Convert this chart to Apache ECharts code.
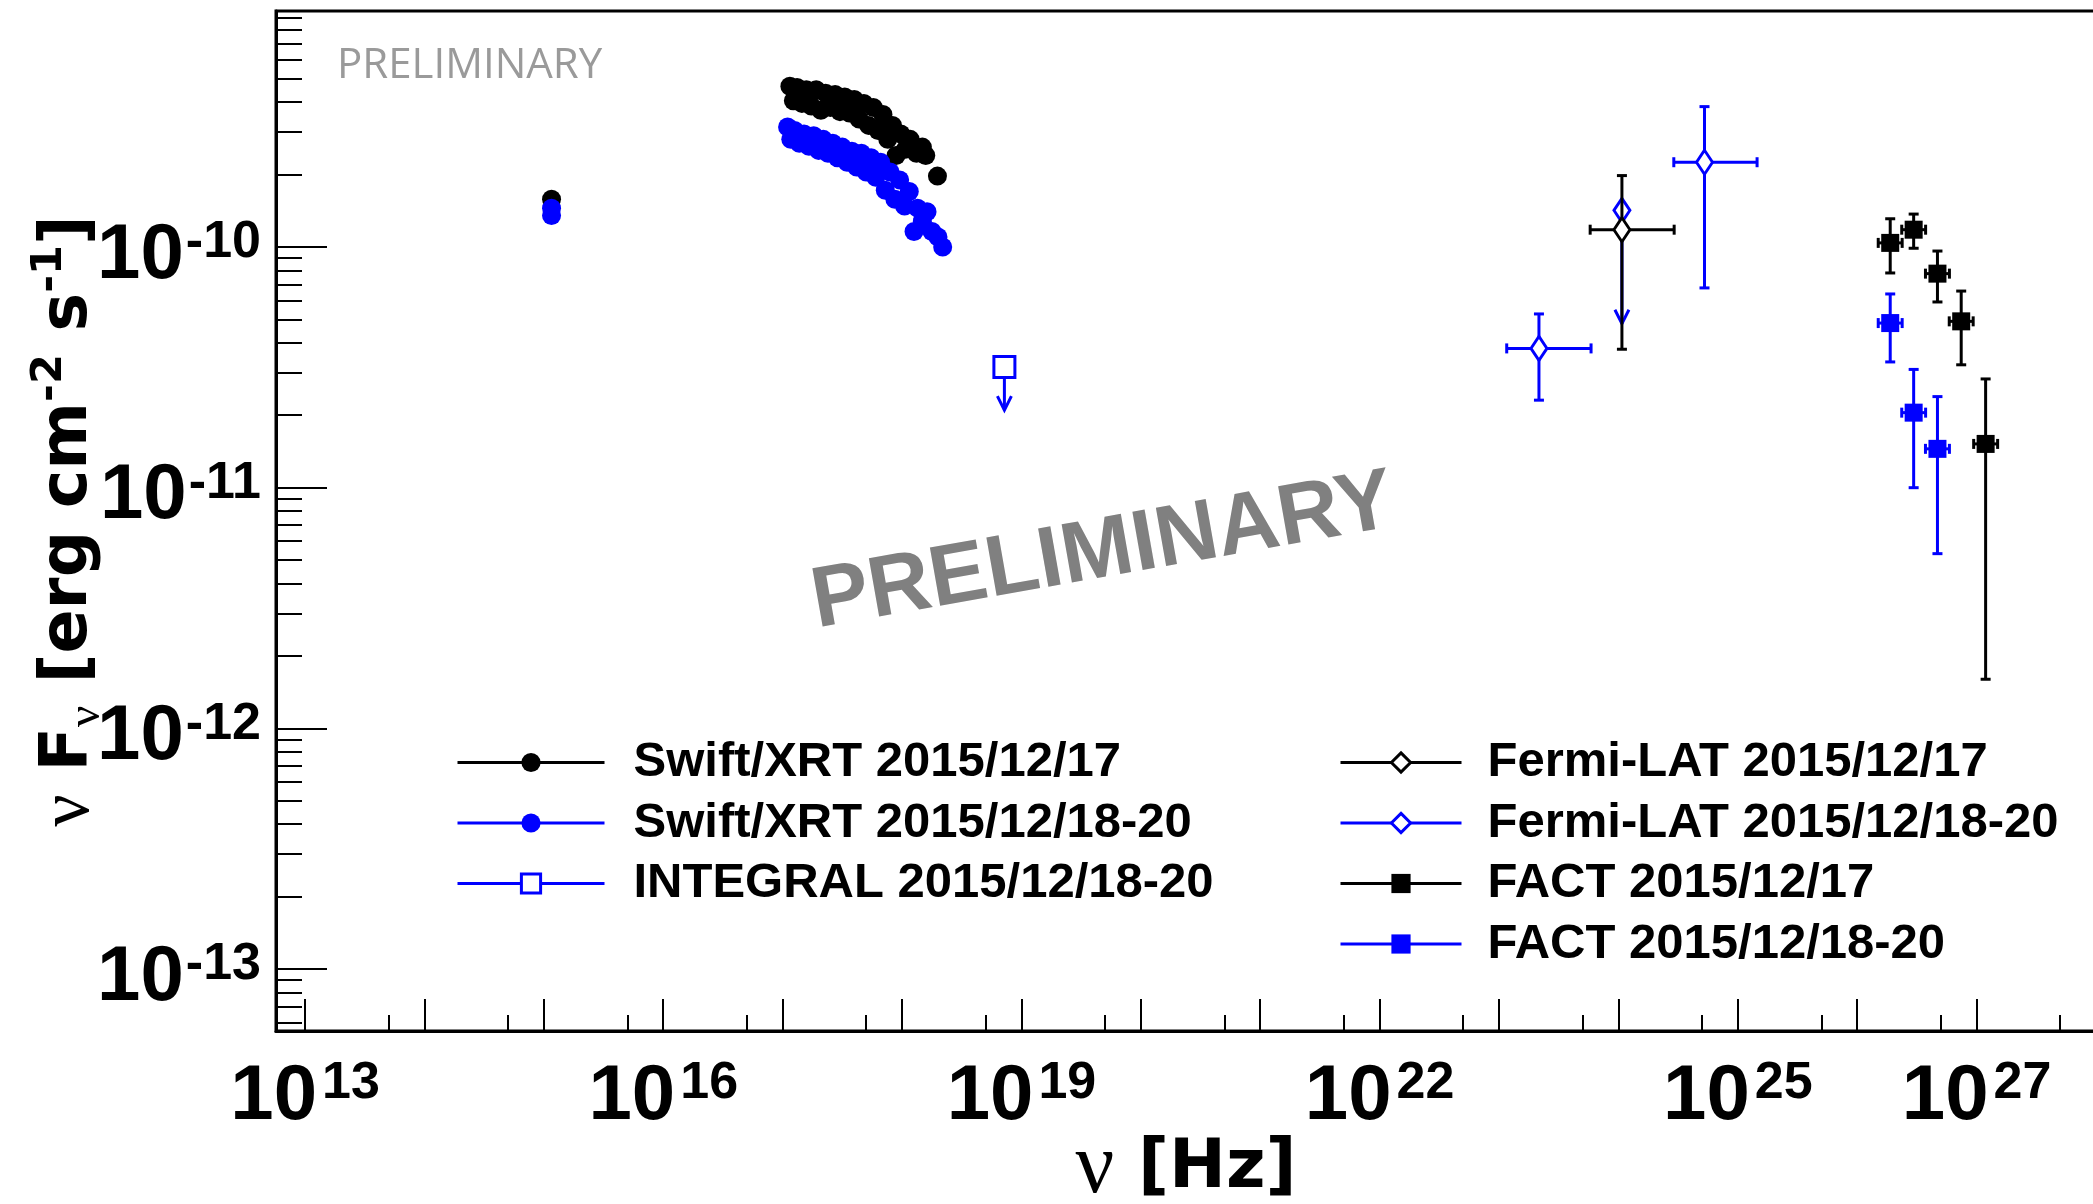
<!DOCTYPE html>
<html>
<head>
<meta charset="utf-8">
<title>SED</title>
<script src="https://cdn.jsdelivr.net/npm/echarts@6.0.0/dist/echarts.min.js"></script>
<style>
html, body { margin: 0; padding: 0; background: #ffffff; }
#chart { width: 2093px; height: 1204px; }
</style>
</head>
<body>
<div id="chart"></div>
<script>
// ---------------- axis ranges & ticks ----------------
const xRange = [5.71e12, 1e28];
const yRange = [5.53e-14, 9.56e-10];
const xMajorTicks = [1e13, 1e14, 1e15, 1e16, 1e17, 1e18, 1e19, 1e20, 1e21, 1e22, 1e23, 1e24, 1e25, 1e26, 1e27];
const xMinorTicks = [5e13, 5e14, 5e15, 5e16, 5e17, 5e18, 5e19, 5e20, 5e21, 5e22, 5e23, 5e24, 5e25, 5e26, 5e27];
const xTickLabels = [1e13, 1e16, 1e19, 1e22, 1e25, 1e27];
const yMajorTicks = [1e-13, 1e-12, 1e-11, 1e-10];
const yMinorTicks = [6e-14, 7e-14, 8e-14, 9e-14,
  2e-13, 3e-13, 4e-13, 5e-13, 6e-13, 7e-13, 8e-13, 9e-13,
  2e-12, 3e-12, 4e-12, 5e-12, 6e-12, 7e-12, 8e-12, 9e-12,
  2e-11, 3e-11, 4e-11, 5e-11, 6e-11, 7e-11, 8e-11, 9e-11,
  2e-10, 3e-10, 4e-10, 5e-10, 6e-10, 7e-10, 8e-10, 9e-10];
const yTickLabels = [1e-13, 1e-12, 1e-11, 1e-10];

// ---------------- series names ----------------
const seriesNames = ['Swift/XRT 2015/12/17', 'Swift/XRT 2015/12/18-20', 'INTEGRAL 2015/12/18-20',
  'Fermi-LAT 2015/12/17', 'Fermi-LAT 2015/12/18-20', 'FACT 2015/12/17', 'FACT 2015/12/18-20'];

// ---------------- Swift (UVOT point + XRT) 2015/12/17 ----------------
const xrt17Nu = [1.16e15, 1.15e17, 1.23e17, 1.32e17, 1.45e17, 1.58e17, 1.74e17, 1.91e17, 2.09e17, 2.29e17,
  2.51e17, 2.75e17, 3.02e17, 3.31e17, 3.63e17, 3.98e17, 4.37e17, 4.79e17, 5.25e17, 5.75e17, 6.31e17,
  6.92e17, 7.59e17, 8.32e17, 8.91e17, 9.77e17, 1.07e18, 1.17e18, 1.32e18, 1.48e18, 1.58e18, 1.98e18];
const xrt17Flux = [1.58e-10, 4.65e-10, 4.05e-10, 4.6e-10, 3.95e-10, 4.5e-10, 3.85e-10, 4.5e-10, 3.7e-10, 4.35e-10,
  3.8e-10, 4.3e-10, 3.65e-10, 4.2e-10, 3.6e-10, 4.1e-10, 3.4e-10, 3.95e-10, 3.2e-10, 3.8e-10, 3.05e-10,
  3.55e-10, 2.8e-10, 3.2e-10, 2.4e-10, 2.95e-10, 2.55e-10, 2.8e-10, 2.45e-10, 2.6e-10, 2.4e-10, 1.97e-10];

// ---------------- Swift 2015/12/18-20 ----------------
const xrt1820Nu = [1.16e15, 1.16e15, 1.10e17, 1.17e17, 1.26e17, 1.38e17, 1.51e17, 1.66e17, 1.82e17, 2.0e17,
  2.19e17, 2.40e17, 2.63e17, 2.88e17, 3.16e17, 3.47e17, 3.80e17, 4.17e17, 4.57e17, 5.01e17, 5.50e17,
  6.03e17, 6.61e17, 7.24e17, 7.94e17, 8.71e17, 9.55e17, 1.05e18, 1.15e18, 1.26e18, 1.35e18, 1.48e18,
  1.62e18, 1.78e18, 2.0e18, 2.19e18];
const xrt1820Flux = [1.45e-10, 1.35e-10, 3.15e-10, 2.8e-10, 3.05e-10, 2.7e-10, 2.95e-10, 2.62e-10, 2.9e-10, 2.52e-10,
  2.8e-10, 2.45e-10, 2.7e-10, 2.35e-10, 2.6e-10, 2.25e-10, 2.5e-10, 2.15e-10, 2.45e-10, 2.05e-10, 2.35e-10,
  1.95e-10, 2.25e-10, 1.72e-10, 2.05e-10, 1.58e-10, 1.9e-10, 1.48e-10, 1.7e-10, 1.16e-10, 1.45e-10, 1.28e-10,
  1.4e-10, 1.16e-10, 1.1e-10, 1.0e-10];

// ---------------- INTEGRAL 2015/12/18-20 (upper limit) ----------------
const integralNu = [7.2e18];
const integralFlux = [3.17e-11];
const integralUlTo = [2.1e-11];

// ---------------- Fermi-LAT 2015/12/17 ----------------
const fermi17Nu = [1.07e24];
const fermi17Flux = [1.18e-10];
const fermi17NuLo = [5.8e23];
const fermi17NuHi = [2.93e24];
const fermi17FluxLo = [3.76e-11];
const fermi17FluxHi = [1.98e-10];

// ---------------- Fermi-LAT 2015/12/18-20 ----------------
const fermi1820Nu = [2.16e23, 5.26e24];
const fermi1820Flux = [3.79e-11, 2.25e-10];
const fermi1820NuLo = [1.16e23, 2.91e24];
const fermi1820NuHi = [5.9e23, 1.45e25];
const fermi1820FluxLo = [2.31e-11, 6.76e-11];
const fermi1820FluxHi = [5.27e-11, 3.83e-10];
const fermi1820UlNu = [1.07e24];
const fermi1820UlFlux = [1.42e-10];
const fermi1820UlTo = [4.8e-11];

// ---------------- FACT 2015/12/17 ----------------
const fact17Nu = [1.89e26, 2.97e26, 4.70e26, 7.43e26, 1.19e27];
const fact17Flux = [1.04e-10, 1.18e-10, 7.75e-11, 4.91e-11, 1.52e-11];
const fact17NuLo = [1.50e26, 2.36e26, 3.73e26, 5.90e26, 9.45e26];
const fact17NuHi = [2.38e26, 3.74e26, 5.92e26, 9.36e26, 1.50e27];
const fact17FluxLo = [7.80e-11, 9.88e-11, 5.91e-11, 3.24e-11, 1.60e-12];
const fact17FluxHi = [1.31e-10, 1.37e-10, 9.62e-11, 6.56e-11, 2.83e-11];

// ---------------- FACT 2015/12/18-20 ----------------
const fact1820Nu = [1.89e26, 2.97e26, 4.70e26];
const fact1820Flux = [4.83e-11, 2.05e-11, 1.45e-11];
const fact1820NuLo = [1.50e26, 2.36e26, 3.73e26];
const fact1820NuHi = [2.38e26, 3.74e26, 5.92e26];
const fact1820FluxLo = [3.33e-11, 1.00e-11, 5.32e-12];
const fact1820FluxHi = [6.38e-11, 3.10e-11, 2.39e-11];

// ================= styling & building =================
const BLACK = '#000000';
const BLUE = '#0000ff';
const SANS = '"Liberation Sans", Arial, Helvetica, sans-serif';
const TITLE_SANS = '"DejaVu Sans", "Liberation Sans", sans-serif';
const SERIF = '"Liberation Serif", "DejaVu Serif", serif';
const DIAMOND = 'path://M0,-12 L8,0 L0,12 L-8,0 Z';

function pairs(xs, ys) { return xs.map((v, i) => [v, ys[i]]); }

function markerSeries(name, xs, ys, symbol, size, fill, stroke, bw, z) {
  return {
    type: 'line', name: name, data: pairs(xs, ys),
    symbol: symbol, symbolSize: size, showSymbol: true,
    itemStyle: { color: fill, borderColor: stroke, borderWidth: bw, opacity: 1 },
    lineStyle: { width: 0, opacity: 0, color: stroke },
    emphasis: { disabled: true }, silent: true, animation: false, z: z
  };
}

function errorSeries(id, color, xs, ys, xlo, xhi, ylo, yhi, z) {
  const data = xs.map((v, i) => [v, ys[i], xlo[i], xhi[i], ylo[i], yhi[i]]);
  return {
    type: 'custom', name: id, data: data, encode: { x: 0, y: 1 },
    silent: true, animation: false, z: z,
    renderItem: function (params, api) {
      const st = { stroke: color, lineWidth: 3, fill: null };
      const cap = 5;
      const p = api.coord([api.value(0), api.value(1)]);
      const yl = api.coord([api.value(0), api.value(4)]);
      const yh = api.coord([api.value(0), api.value(5)]);
      const xl = api.coord([api.value(2), api.value(1)]);
      const xh = api.coord([api.value(3), api.value(1)]);
      return {
        type: 'group', children: [
          { type: 'line', shape: { x1: p[0], y1: yl[1], x2: p[0], y2: yh[1] }, style: st },
          { type: 'line', shape: { x1: p[0] - cap, y1: yl[1], x2: p[0] + cap, y2: yl[1] }, style: st },
          { type: 'line', shape: { x1: p[0] - cap, y1: yh[1], x2: p[0] + cap, y2: yh[1] }, style: st },
          { type: 'line', shape: { x1: xl[0], y1: p[1], x2: xh[0], y2: p[1] }, style: st },
          { type: 'line', shape: { x1: xl[0], y1: p[1] - cap, x2: xl[0], y2: p[1] + cap }, style: st },
          { type: 'line', shape: { x1: xh[0], y1: p[1] - cap, x2: xh[0], y2: p[1] + cap }, style: st }
        ]
      };
    }
  };
}

function arrowSeries(id, color, xs, ys, tos, z) {
  const data = xs.map((v, i) => [v, ys[i], tos[i]]);
  return {
    type: 'custom', name: id, data: data, encode: { x: 0, y: 1 },
    silent: true, animation: false, z: z,
    renderItem: function (params, api) {
      const st = { stroke: color, lineWidth: 3, fill: null };
      const p = api.coord([api.value(0), api.value(1)]);
      const t = api.coord([api.value(0), api.value(2)]);
      return {
        type: 'group', children: [
          { type: 'line', shape: { x1: p[0], y1: p[1], x2: t[0], y2: t[1] }, style: st },
          { type: 'polyline', shape: { points: [[t[0] - 7, t[1] - 14], [t[0], t[1]], [t[0] + 7, t[1] - 14]] }, style: st }
        ]
      };
    }
  };
}

function expLabel(v) {
  const e = Math.round(Math.log10(v));
  return '{b|10}{s|' + e + '}';
}

const labelRichX = {
  b: { fontFamily: SANS, fontWeight: 'bold', fontSize: 78, lineHeight: 78, verticalAlign: 'bottom', color: BLACK },
  s: { fontFamily: SANS, fontWeight: 'bold', fontSize: 52, lineHeight: 52, verticalAlign: 'top', padding: [0, 0, 48, 5], color: BLACK }
};
const labelRichY = {
  b: { fontFamily: SANS, fontWeight: 'bold', fontSize: 78, lineHeight: 78, verticalAlign: 'bottom', color: BLACK },
  s: { fontFamily: SANS, fontWeight: 'bold', fontSize: 52, lineHeight: 52, verticalAlign: 'top', padding: [0, 0, 48, 2], color: BLACK }
};

function legendItem(name, fill, stroke, bw) {
  return {
    name: name,
    itemStyle: { color: fill, borderColor: stroke, borderWidth: bw, opacity: 1 },
    lineStyle: { color: stroke, width: 3, opacity: 1, type: 'solid' }
  };
}

const legendText = (pad) => ({
  fontFamily: SANS, fontWeight: 'bold', fontSize: 49, lineHeight: 48, color: BLACK, padding: [0, 0, 0, pad]
});

const option = {
  animation: false,
  backgroundColor: '#ffffff',
  textStyle: { fontFamily: SANS },
  grid: {
    left: 276, top: 11, right: -3, bottom: 173,
    containLabel: false, outerBoundsMode: 'none',
    show: true, borderColor: BLACK, borderWidth: 3, backgroundColor: 'transparent'
  },
  xAxis: [
    {
      type: 'log', logBase: 10, min: xRange[0], max: xRange[1], position: 'bottom',
      axisLine: { show: true, onZero: false, lineStyle: { color: BLACK, width: 3 } },
      axisTick: { show: true, inside: true, length: 32, customValues: xMajorTicks, lineStyle: { color: BLACK, width: 2 } },
      minorTick: { show: false },
      splitLine: { show: false },
      axisLabel: { show: true, customValues: xTickLabels, margin: 27, formatter: expLabel, rich: labelRichX, hideOverlap: false },
      name: '{nu|ν}{b| [Hz]}',
      nameLocation: 'middle', nameGap: 96, nameMoveOverlap: false,
      nameTextStyle: {
        rich: {
          nu: { fontFamily: SERIF, fontSize: 86, lineHeight: 84, color: BLACK },
          b: { fontFamily: TITLE_SANS, fontWeight: 'bold', fontSize: 68, lineHeight: 84, color: BLACK }
        }
      }
    },
    {
      type: 'log', logBase: 10, min: xRange[0], max: xRange[1], position: 'bottom',
      axisLine: { show: false },
      axisTick: { show: true, inside: true, length: 16, customValues: xMinorTicks, lineStyle: { color: BLACK, width: 2 } },
      axisLabel: { show: false }, splitLine: { show: false }, minorTick: { show: false }
    }
  ],
  yAxis: [
    {
      type: 'log', logBase: 10, min: yRange[0], max: yRange[1], position: 'left',
      axisLine: { show: true, onZero: false, lineStyle: { color: BLACK, width: 3 } },
      axisTick: { show: true, inside: true, length: 51, customValues: yMajorTicks, lineStyle: { color: BLACK, width: 2 } },
      minorTick: { show: false },
      splitLine: { show: false },
      axisLabel: { show: true, customValues: yTickLabels, margin: 15, padding: [18, 0, 0, 0], formatter: expLabel, rich: labelRichY, hideOverlap: false },
      name: '{nu|ν}{b| F}{sub|ν}{b| [erg cm}{sup|-2}{b| s}{sup|-1}{b|]}',
      nameLocation: 'middle', nameGap: 166, nameRotate: 90, nameMoveOverlap: false,
      nameTextStyle: {
        rich: {
          nu: { fontFamily: SERIF, fontSize: 72, lineHeight: 82, color: BLACK },
          b: { fontFamily: TITLE_SANS, fontWeight: 'bold', fontSize: 65, lineHeight: 82, color: BLACK },
          sub: { fontFamily: SERIF, fontSize: 47, lineHeight: 45, verticalAlign: 'bottom', color: BLACK },
          sup: { fontFamily: TITLE_SANS, fontWeight: 'bold', fontSize: 43, lineHeight: 43, verticalAlign: 'top', color: BLACK }
        }
      }
    },
    {
      type: 'log', logBase: 10, min: yRange[0], max: yRange[1], position: 'left',
      axisLine: { show: false },
      axisTick: { show: true, inside: true, length: 26, customValues: yMinorTicks, lineStyle: { color: BLACK, width: 2 } },
      axisLabel: { show: false }, splitLine: { show: false }, minorTick: { show: false }
    }
  ],
  legend: [
    {
      orient: 'vertical', left: 456, top: 738, padding: 0, itemGap: 11.5,
      itemWidth: 147, itemHeight: 24, selectedMode: false,
      textStyle: legendText(24),
      data: [
        legendItem(seriesNames[0], BLACK, BLACK, 0),
        legendItem(seriesNames[1], BLUE, BLUE, 0),
        legendItem(seriesNames[2], '#ffffff', BLUE, 3)
      ]
    },
    {
      orient: 'vertical', left: 1339, top: 738, padding: 0, itemGap: 11.5,
      itemWidth: 121, itemHeight: 24, selectedMode: false,
      textStyle: legendText(21),
      data: [
        legendItem(seriesNames[3], '#ffffff', BLACK, 3),
        legendItem(seriesNames[4], '#ffffff', BLUE, 3),
        legendItem(seriesNames[5], BLACK, BLACK, 0),
        legendItem(seriesNames[6], BLUE, BLUE, 0)
      ]
    }
  ],
  graphic: [
    {
      type: 'text', x: 337, y: 66, silent: true, z: 1,
      style: { text: 'PRELIMINARY', font: '42px "Open Sans", "DejaVu Sans", sans-serif', fill: '#9a9a9a',
        textAlign: 'left', textVerticalAlign: 'middle', align: 'left', verticalAlign: 'middle' }
    },
    {
      type: 'text', x: 1103, y: 553, rotation: 10 * Math.PI / 180, silent: true, z: 1,
      style: { text: 'PRELIMINARY', font: 'bold 86px "Liberation Sans", Arial, sans-serif', fill: '#808080',
        textAlign: 'center', textVerticalAlign: 'middle', align: 'center', verticalAlign: 'middle' }
    }
  ],
  series: [
    // Swift
    markerSeries(seriesNames[0], xrt17Nu, xrt17Flux, 'circle', 19, BLACK, BLACK, 0, 3),
    markerSeries(seriesNames[1], xrt1820Nu, xrt1820Flux, 'circle', 19, BLUE, BLUE, 0, 3),
    // INTEGRAL
    arrowSeries('integral-ul', BLUE, integralNu, integralFlux, integralUlTo, 2),
    markerSeries(seriesNames[2], integralNu, integralFlux, 'rect', 21, '#ffffff', BLUE, 3, 3),
    // Fermi 18-20
    errorSeries('fermi1820-err', BLUE, fermi1820Nu, fermi1820Flux, fermi1820NuLo, fermi1820NuHi, fermi1820FluxLo, fermi1820FluxHi, 2),
    arrowSeries('fermi1820-ul', BLUE, fermi1820UlNu, fermi1820UlFlux, fermi1820UlTo, 2),
    markerSeries(seriesNames[4], fermi1820Nu.concat(fermi1820UlNu), fermi1820Flux.concat(fermi1820UlFlux), DIAMOND, [16, 24], '#ffffff', BLUE, 3, 3),
    // Fermi 17
    errorSeries('fermi17-err', BLACK, fermi17Nu, fermi17Flux, fermi17NuLo, fermi17NuHi, fermi17FluxLo, fermi17FluxHi, 4),
    markerSeries(seriesNames[3], fermi17Nu, fermi17Flux, DIAMOND, [16, 24], '#ffffff', BLACK, 3, 5),
    // FACT
    errorSeries('fact17-err', BLACK, fact17Nu, fact17Flux, fact17NuLo, fact17NuHi, fact17FluxLo, fact17FluxHi, 2),
    markerSeries(seriesNames[5], fact17Nu, fact17Flux, 'rect', 18, BLACK, BLACK, 0, 3),
    errorSeries('fact1820-err', BLUE, fact1820Nu, fact1820Flux, fact1820NuLo, fact1820NuHi, fact1820FluxLo, fact1820FluxHi, 2),
    markerSeries(seriesNames[6], fact1820Nu, fact1820Flux, 'rect', 18, BLUE, BLUE, 0, 3)
  ]
};

const chart = echarts.init(document.getElementById('chart'), null, { renderer: 'canvas' });
chart.setOption(option);
</script>
</body>
</html>
